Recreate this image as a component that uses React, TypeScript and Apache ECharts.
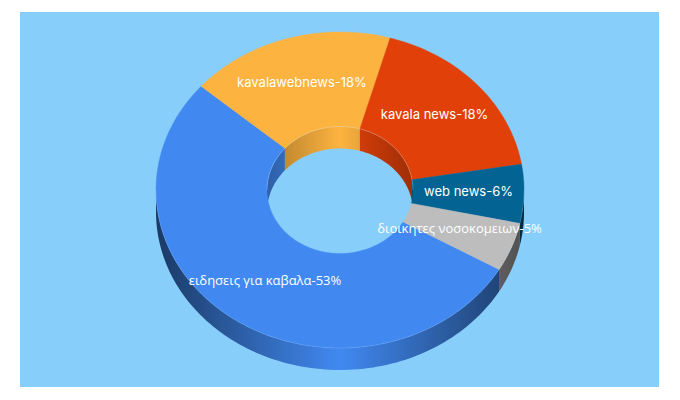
import React, { useEffect, useRef } from "react";
import * as echarts from "echarts";

const categories = ["ειδησεις για καβαλα", "kavalawebnews", "kavala news", "web news", "διοικητες νοσοκομειων"];
const shares = [53, 18, 18, 6, 5];
const colors = ["#4189F1", "#FDB33F", "#E14109", "#036494", "#BDBDBD"];

// layout of the tilted ring (not data)
const CX = 340, CY = 190, RX = 184, RY = 158, IRX = 73, IRY = 63.5, DEPTH = 22;
const START_DEG = 120.2;
const LABEL_POS = [[265, 280], [302, 82], [434.5, 114], [468.5, 191], [459.5, 228]];
const LABEL_FONT = ['13px "Open Sans"', '13px Inter', '13px Inter', '13px Inter', '13px "Open Sans"'];

const total = shares.reduce((a, b) => a + b, 0);
const startOf = (i: number) => START_DEG + shares.slice(0, i).reduce((a, b) => a + b, 0) / total * 360;
const endOf = (i: number) => startOf(i + 1);
const pt = (deg: number, rx: number, ry: number, dy = 0) => {
  const t = (deg * Math.PI) / 180;
  return [CX + rx * Math.sin(t), CY - ry * Math.cos(t) + dy];
};
const arc = (a: number, b: number, rx: number, ry: number, dy = 0) => {
  const n = Math.max(2, Math.ceil(Math.abs(b - a) / 1.5));
  const out: number[][] = [];
  for (let i = 0; i <= n; i++) out.push(pt(a + ((b - a) * i) / n, rx, ry, dy));
  return out;
};
const shade = (hex: string, k: number) => {
  const v = parseInt(hex.slice(1), 16);
  const c = [(v >> 16) & 255, (v >> 8) & 255, v & 255].map((x) => Math.round(x * k));
  return `rgb(${c[0]},${c[1]},${c[2]})`;
};
const wallFill = (color: string, x0: number, x1: number, edge: number) =>
  new echarts.graphic.LinearGradient(x0, 0, x1, 0, [
    { offset: 0, color: shade(color, edge) },
    { offset: 0.5, color },
    { offset: 1, color: shade(color, edge) },
  ], true);
const overlap = (a: number, b: number, lo: number, hi: number) => {
  const s = Math.max(a, lo), e = Math.min(b, hi);
  return e > s ? [s, e] : null;
};
const OUTER_VISIBLE = [[90, 270], [450, 630]];
const INNER_VISIBLE = [[-90, 90], [270, 450]];

const renderWalls = (params: any) => {
  const i = params.dataIndex;
  const a = startOf(i), b = endOf(i), color = colors[i];
  const children: any[] = [];
  OUTER_VISIBLE.forEach(([lo, hi]) => {
    const o = overlap(a, b, lo, hi);
    if (o) {
      const top = arc(o[0], o[1], RX, RY);
      const bot = arc(o[1], o[0], RX, RY, DEPTH);
      children.push({ type: "polygon", shape: { points: [...top, ...bot] }, style: { fill: wallFill(color, CX - RX, CX + RX, 0.42) } });
    }
  });
  INNER_VISIBLE.forEach(([lo, hi]) => {
    const o = overlap(a, b, lo, hi);
    if (o) {
      const top = arc(o[0], o[1], IRX, IRY);
      const bot = arc(o[1], o[0], IRX, IRY, DEPTH);
      children.push({ type: "polygon", shape: { points: [...top, ...bot] }, style: { fill: wallFill(color, CX - IRX, CX + IRX, 0.7) } });
    }
  });
  return { type: "group", children };
};

const renderTops = (params: any) => {
  const i = params.dataIndex;
  const a = startOf(i), b = endOf(i);
  const children: any[] = [{
    type: "polygon",
    shape: { points: [...arc(a, b, RX, RY), ...arc(b, a, IRX, IRY)] },
    style: { fill: colors[i], stroke: colors[i], lineWidth: 0.4 },
  }];
  INNER_VISIBLE.forEach(([lo, hi]) => {
    const o = overlap(a, b, lo, hi);
    if (o) children.push({ type: "polyline", shape: { points: arc(o[0], o[1], IRX, IRY) }, style: { fill: "none", stroke: "rgba(255,255,255,0.28)", lineWidth: 0.8 } });
  });
  OUTER_VISIBLE.forEach(([lo, hi]) => {
    const o = overlap(a, b, lo, hi);
    if (o) children.push({ type: "polyline", shape: { points: arc(o[0], o[1], RX, RY) }, style: { fill: "none", stroke: "rgba(255,255,255,0.14)", lineWidth: 0.8 } });
  });
  return { type: "group", children };
};

const renderLabels = (params: any, api: any) => {
  const i = params.dataIndex;
  return {
    type: "text",
    style: {
      text: `${categories[i]}-${api.value(0)}%`,
      x: LABEL_POS[i][0],
      y: LABEL_POS[i][1],
      fill: "#ffffff",
      font: LABEL_FONT[i],
      align: "center",
      verticalAlign: "middle",
    },
  };
};

export default function App() {
  const ref = useRef<HTMLDivElement>(null);
  useEffect(() => {
    const chart = echarts.init(ref.current!, undefined, { renderer: "svg" });
    const data = shares.map((v) => [v]);
    chart.setOption({
      animation: false,
      backgroundColor: "#ffffff",
      graphic: [{ type: "rect", z: -10, shape: { x: 20, y: 12, width: 639, height: 375 }, style: { fill: "#87CEFA" } }],
      series: [
        { type: "custom", coordinateSystem: "none", z: 1, data, renderItem: renderWalls, silent: true },
        { type: "custom", coordinateSystem: "none", z: 2, data, renderItem: renderTops, silent: true },
        { type: "custom", coordinateSystem: "none", z: 3, data, renderItem: renderLabels, silent: true },
      ],
    });
    return () => chart.dispose();
  }, []);
  return <div ref={ref} style={{ position: "fixed", left: 0, top: 0, width: 680, height: 400 }} />;
}
